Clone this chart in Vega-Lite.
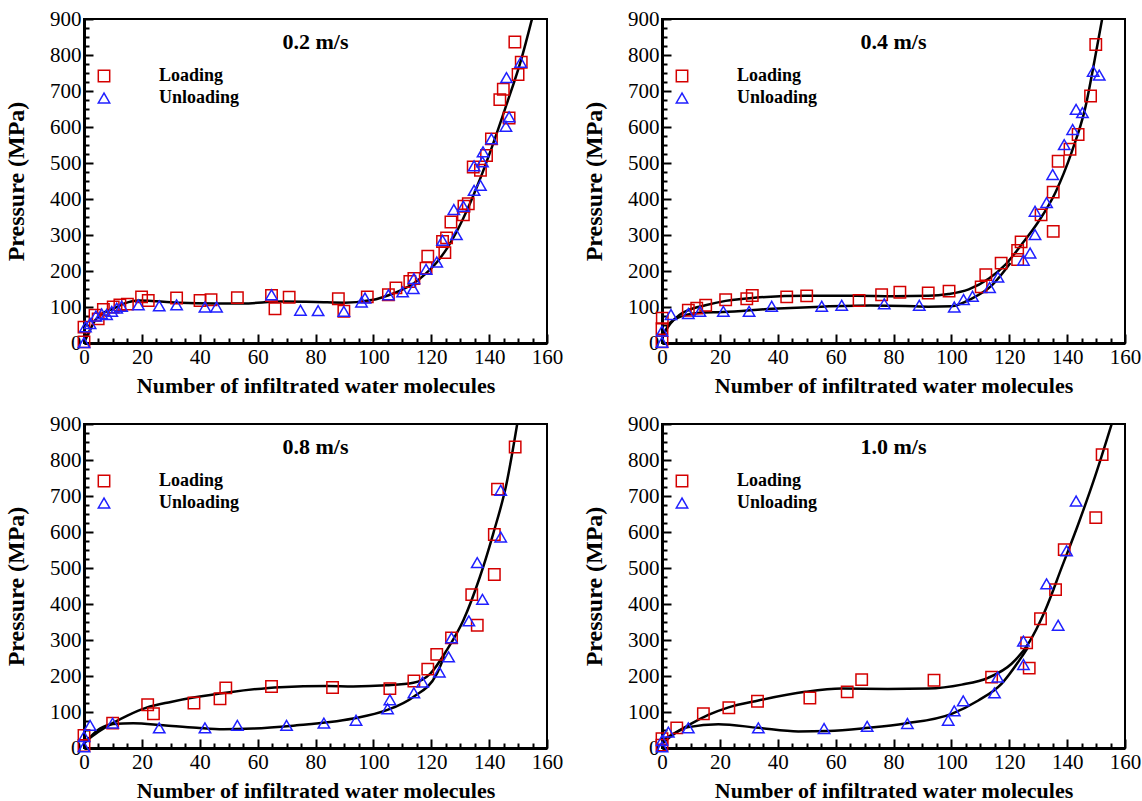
{
  "$schema": "https://vega.github.io/schema/vega-lite/v6.json",
  "padding": {"left": 3, "top": 7, "right": 5, "bottom": 5},
  "background": "white",
  "datasets": {
    "pts": [
      {"p":"0.2","s":"Loading","x":0,"y":3},{"p":"0.2","s":"Loading","x":0,"y":44},{"p":"0.2","s":"Loading","x":3.8,"y":77},{"p":"0.2","s":"Loading","x":4.9,"y":67},{"p":"0.2","s":"Loading","x":6.7,"y":93},{"p":"0.2","s":"Loading","x":10.1,"y":100},{"p":"0.2","s":"Loading","x":12.4,"y":106},{"p":"0.2","s":"Loading","x":15,"y":108},{"p":"0.2","s":"Loading","x":19.9,"y":128},{"p":"0.2","s":"Loading","x":22.2,"y":118},{"p":"0.2","s":"Loading","x":32,"y":125},{"p":"0.2","s":"Loading","x":40.1,"y":118},{"p":"0.2","s":"Loading","x":43.9,"y":120},{"p":"0.2","s":"Loading","x":53,"y":126},{"p":"0.2","s":"Loading","x":64.8,"y":132},{"p":"0.2","s":"Loading","x":66,"y":95},{"p":"0.2","s":"Loading","x":70.9,"y":127},{"p":"0.2","s":"Loading","x":87.9,"y":123},{"p":"0.2","s":"Loading","x":89.8,"y":88},{"p":"0.2","s":"Loading","x":97.9,"y":128},{"p":"0.2","s":"Loading","x":105.2,"y":134},{"p":"0.2","s":"Loading","x":107.8,"y":153},{"p":"0.2","s":"Loading","x":112.6,"y":171},{"p":"0.2","s":"Loading","x":114,"y":179},{"p":"0.2","s":"Loading","x":118.2,"y":208},{"p":"0.2","s":"Loading","x":118.8,"y":241},{"p":"0.2","s":"Loading","x":124.7,"y":251},{"p":"0.2","s":"Loading","x":123.9,"y":282},{"p":"0.2","s":"Loading","x":125.3,"y":292},{"p":"0.2","s":"Loading","x":126.8,"y":336},{"p":"0.2","s":"Loading","x":131.1,"y":356},{"p":"0.2","s":"Loading","x":131.3,"y":380},{"p":"0.2","s":"Loading","x":132.8,"y":387},{"p":"0.2","s":"Loading","x":134.5,"y":489},{"p":"0.2","s":"Loading","x":137,"y":480},{"p":"0.2","s":"Loading","x":139.1,"y":521},{"p":"0.2","s":"Loading","x":140.8,"y":567},{"p":"0.2","s":"Loading","x":143.7,"y":676},{"p":"0.2","s":"Loading","x":144.9,"y":705},{"p":"0.2","s":"Loading","x":146.9,"y":625},{"p":"0.2","s":"Loading","x":148.9,"y":836},{"p":"0.2","s":"Loading","x":150,"y":746},{"p":"0.2","s":"Loading","x":151.1,"y":780},
      {"p":"0.2","s":"Unloading","x":0,"y":1},{"p":"0.2","s":"Unloading","x":0.5,"y":45},{"p":"0.2","s":"Unloading","x":2.1,"y":54},{"p":"0.2","s":"Unloading","x":4.1,"y":75},{"p":"0.2","s":"Unloading","x":6.1,"y":81},{"p":"0.2","s":"Unloading","x":7.8,"y":79},{"p":"0.2","s":"Unloading","x":9.6,"y":88},{"p":"0.2","s":"Unloading","x":11.3,"y":97},{"p":"0.2","s":"Unloading","x":13,"y":102},{"p":"0.2","s":"Unloading","x":18.8,"y":106},{"p":"0.2","s":"Unloading","x":26,"y":103},{"p":"0.2","s":"Unloading","x":32,"y":106},{"p":"0.2","s":"Unloading","x":41.8,"y":100},{"p":"0.2","s":"Unloading","x":45.8,"y":100},{"p":"0.2","s":"Unloading","x":64.8,"y":134},{"p":"0.2","s":"Unloading","x":74.8,"y":91},{"p":"0.2","s":"Unloading","x":80.9,"y":90},{"p":"0.2","s":"Unloading","x":89.8,"y":88},{"p":"0.2","s":"Unloading","x":95.9,"y":114},{"p":"0.2","s":"Unloading","x":97.1,"y":125},{"p":"0.2","s":"Unloading","x":105.2,"y":134},{"p":"0.2","s":"Unloading","x":110.1,"y":142},{"p":"0.2","s":"Unloading","x":113.8,"y":151},{"p":"0.2","s":"Unloading","x":114,"y":179},{"p":"0.2","s":"Unloading","x":118.2,"y":205},{"p":"0.2","s":"Unloading","x":121.9,"y":225},{"p":"0.2","s":"Unloading","x":123.9,"y":285},{"p":"0.2","s":"Unloading","x":128.7,"y":301},{"p":"0.2","s":"Unloading","x":127.8,"y":371},{"p":"0.2","s":"Unloading","x":131.1,"y":380},{"p":"0.2","s":"Unloading","x":134.8,"y":424},{"p":"0.2","s":"Unloading","x":137,"y":438},{"p":"0.2","s":"Unloading","x":134.8,"y":492},{"p":"0.2","s":"Unloading","x":137.7,"y":503},{"p":"0.2","s":"Unloading","x":137.9,"y":531},{"p":"0.2","s":"Unloading","x":140.8,"y":567},{"p":"0.2","s":"Unloading","x":145.8,"y":602},{"p":"0.2","s":"Unloading","x":146.9,"y":628},{"p":"0.2","s":"Unloading","x":146,"y":737},{"p":"0.2","s":"Unloading","x":150.9,"y":780},
      {"p":"0.4","s":"Loading","x":0,"y":3},{"p":"0.4","s":"Loading","x":0,"y":40},{"p":"0.4","s":"Loading","x":0.1,"y":69},{"p":"0.4","s":"Loading","x":9.1,"y":91},{"p":"0.4","s":"Loading","x":12,"y":97},{"p":"0.4","s":"Loading","x":15.1,"y":105},{"p":"0.4","s":"Loading","x":22,"y":120},{"p":"0.4","s":"Loading","x":29.3,"y":123},{"p":"0.4","s":"Loading","x":31.2,"y":132},{"p":"0.4","s":"Loading","x":43.1,"y":128},{"p":"0.4","s":"Loading","x":50,"y":131},{"p":"0.4","s":"Loading","x":68.1,"y":118},{"p":"0.4","s":"Loading","x":75.9,"y":134},{"p":"0.4","s":"Loading","x":82.2,"y":141},{"p":"0.4","s":"Loading","x":92,"y":139},{"p":"0.4","s":"Loading","x":99.2,"y":144},{"p":"0.4","s":"Loading","x":110.3,"y":156},{"p":"0.4","s":"Loading","x":111.9,"y":190},{"p":"0.4","s":"Loading","x":117.2,"y":222},{"p":"0.4","s":"Loading","x":122.9,"y":232},{"p":"0.4","s":"Loading","x":122.9,"y":257},{"p":"0.4","s":"Loading","x":124.1,"y":281},{"p":"0.4","s":"Loading","x":131,"y":356},{"p":"0.4","s":"Loading","x":135.2,"y":310},{"p":"0.4","s":"Loading","x":135.2,"y":419},{"p":"0.4","s":"Loading","x":136.9,"y":505},{"p":"0.4","s":"Loading","x":141,"y":538},{"p":"0.4","s":"Loading","x":143.8,"y":579},{"p":"0.4","s":"Loading","x":148.1,"y":686},{"p":"0.4","s":"Loading","x":149.9,"y":829},
      {"p":"0.4","s":"Unloading","x":0,"y":2},{"p":"0.4","s":"Unloading","x":0,"y":33},{"p":"0.4","s":"Unloading","x":3.1,"y":79},{"p":"0.4","s":"Unloading","x":9.1,"y":82},{"p":"0.4","s":"Unloading","x":13.1,"y":88},{"p":"0.4","s":"Unloading","x":21.2,"y":88},{"p":"0.4","s":"Unloading","x":30.1,"y":88},{"p":"0.4","s":"Unloading","x":37.9,"y":102},{"p":"0.4","s":"Unloading","x":55.2,"y":102},{"p":"0.4","s":"Unloading","x":62.1,"y":105},{"p":"0.4","s":"Unloading","x":76.8,"y":109},{"p":"0.4","s":"Unloading","x":88.9,"y":105},{"p":"0.4","s":"Unloading","x":101,"y":100},{"p":"0.4","s":"Unloading","x":104.2,"y":121},{"p":"0.4","s":"Unloading","x":107.3,"y":130},{"p":"0.4","s":"Unloading","x":113.2,"y":154},{"p":"0.4","s":"Unloading","x":116.1,"y":183},{"p":"0.4","s":"Unloading","x":124.9,"y":230},{"p":"0.4","s":"Unloading","x":127.2,"y":250},{"p":"0.4","s":"Unloading","x":128.9,"y":301},{"p":"0.4","s":"Unloading","x":128.9,"y":366},{"p":"0.4","s":"Unloading","x":132.9,"y":390},{"p":"0.4","s":"Unloading","x":135,"y":468},{"p":"0.4","s":"Unloading","x":139,"y":551},{"p":"0.4","s":"Unloading","x":141.9,"y":593},{"p":"0.4","s":"Unloading","x":143.1,"y":649},{"p":"0.4","s":"Unloading","x":145.3,"y":640},{"p":"0.4","s":"Unloading","x":149,"y":755},{"p":"0.4","s":"Unloading","x":151.1,"y":744},
      {"p":"0.8","s":"Loading","x":0,"y":7},{"p":"0.8","s":"Loading","x":0,"y":35},{"p":"0.8","s":"Loading","x":9.9,"y":69},{"p":"0.8","s":"Loading","x":22,"y":120},{"p":"0.8","s":"Loading","x":24,"y":95},{"p":"0.8","s":"Loading","x":38,"y":125},{"p":"0.8","s":"Loading","x":47,"y":137},{"p":"0.8","s":"Loading","x":49,"y":167},{"p":"0.8","s":"Loading","x":64.8,"y":171},{"p":"0.8","s":"Loading","x":85.9,"y":168},{"p":"0.8","s":"Loading","x":105.7,"y":165},{"p":"0.8","s":"Loading","x":114,"y":186},{"p":"0.8","s":"Loading","x":118.8,"y":219},{"p":"0.8","s":"Loading","x":121.9,"y":260},{"p":"0.8","s":"Loading","x":127,"y":306},{"p":"0.8","s":"Loading","x":134,"y":426},{"p":"0.8","s":"Loading","x":135.9,"y":341},{"p":"0.8","s":"Loading","x":141.8,"y":482},{"p":"0.8","s":"Loading","x":141.8,"y":593},{"p":"0.8","s":"Loading","x":142.9,"y":719},{"p":"0.8","s":"Loading","x":149,"y":836},
      {"p":"0.8","s":"Unloading","x":0,"y":3},{"p":"0.8","s":"Unloading","x":0,"y":32},{"p":"0.8","s":"Unloading","x":2.1,"y":63},{"p":"0.8","s":"Unloading","x":9.9,"y":69},{"p":"0.8","s":"Unloading","x":26,"y":56},{"p":"0.8","s":"Unloading","x":41.8,"y":56},{"p":"0.8","s":"Unloading","x":53,"y":63},{"p":"0.8","s":"Unloading","x":70,"y":63},{"p":"0.8","s":"Unloading","x":82.9,"y":69},{"p":"0.8","s":"Unloading","x":94,"y":77},{"p":"0.8","s":"Unloading","x":104.9,"y":109},{"p":"0.8","s":"Unloading","x":105.7,"y":134},{"p":"0.8","s":"Unloading","x":114,"y":153},{"p":"0.8","s":"Unloading","x":117,"y":183},{"p":"0.8","s":"Unloading","x":122.8,"y":211},{"p":"0.8","s":"Unloading","x":126,"y":253},{"p":"0.8","s":"Unloading","x":127,"y":306},{"p":"0.8","s":"Unloading","x":133,"y":353},{"p":"0.8","s":"Unloading","x":137.7,"y":413},{"p":"0.8","s":"Unloading","x":135.9,"y":515},{"p":"0.8","s":"Unloading","x":144,"y":586},{"p":"0.8","s":"Unloading","x":144,"y":716},
      {"p":"1.0","s":"Loading","x":0,"y":8},{"p":"1.0","s":"Loading","x":0,"y":26},{"p":"1.0","s":"Loading","x":5.1,"y":56},{"p":"1.0","s":"Loading","x":14.3,"y":95},{"p":"1.0","s":"Loading","x":23.1,"y":112},{"p":"1.0","s":"Loading","x":33,"y":130},{"p":"1.0","s":"Loading","x":51.1,"y":139},{"p":"1.0","s":"Loading","x":64,"y":156},{"p":"1.0","s":"Loading","x":69,"y":190},{"p":"1.0","s":"Loading","x":94,"y":188},{"p":"1.0","s":"Loading","x":113.9,"y":197},{"p":"1.0","s":"Loading","x":126,"y":292},{"p":"1.0","s":"Loading","x":126.9,"y":222},{"p":"1.0","s":"Loading","x":130.8,"y":359},{"p":"1.0","s":"Loading","x":136,"y":440},{"p":"1.0","s":"Loading","x":139,"y":551},{"p":"1.0","s":"Loading","x":149.9,"y":640},{"p":"1.0","s":"Loading","x":152.1,"y":815},
      {"p":"1.0","s":"Unloading","x":0,"y":3},{"p":"1.0","s":"Unloading","x":0,"y":21},{"p":"1.0","s":"Unloading","x":2.2,"y":44},{"p":"1.0","s":"Unloading","x":9.1,"y":56},{"p":"1.0","s":"Unloading","x":33.3,"y":56},{"p":"1.0","s":"Unloading","x":56,"y":54},{"p":"1.0","s":"Unloading","x":70.9,"y":60},{"p":"1.0","s":"Unloading","x":84.8,"y":68},{"p":"1.0","s":"Unloading","x":98.9,"y":77},{"p":"1.0","s":"Unloading","x":101,"y":103},{"p":"1.0","s":"Unloading","x":104.1,"y":131},{"p":"1.0","s":"Unloading","x":114.9,"y":153},{"p":"1.0","s":"Unloading","x":116,"y":197},{"p":"1.0","s":"Unloading","x":124.9,"y":232},{"p":"1.0","s":"Unloading","x":124.9,"y":297},{"p":"1.0","s":"Unloading","x":132.9,"y":456},{"p":"1.0","s":"Unloading","x":136.9,"y":341},{"p":"1.0","s":"Unloading","x":139.8,"y":548},{"p":"1.0","s":"Unloading","x":143.1,"y":686}
    ],
    "curves": [
      {"p":"0.2","c":"a","x":0,"y":0},{"p":"0.2","c":"a","x":2,"y":35},{"p":"0.2","c":"a","x":4,"y":65},{"p":"0.2","c":"a","x":7,"y":85},{"p":"0.2","c":"a","x":10,"y":95},{"p":"0.2","c":"a","x":14,"y":110},{"p":"0.2","c":"a","x":19,"y":118},{"p":"0.2","c":"a","x":25,"y":116},{"p":"0.2","c":"a","x":33,"y":112},{"p":"0.2","c":"a","x":45,"y":110},{"p":"0.2","c":"a","x":55,"y":110},{"p":"0.2","c":"a","x":68,"y":115},{"p":"0.2","c":"a","x":80,"y":114},{"p":"0.2","c":"a","x":90,"y":112},{"p":"0.2","c":"a","x":100,"y":120},{"p":"0.2","c":"a","x":105,"y":132},{"p":"0.2","c":"a","x":110,"y":148},{"p":"0.2","c":"a","x":114,"y":166},{"p":"0.2","c":"a","x":118,"y":192},{"p":"0.2","c":"a","x":122,"y":225},{"p":"0.2","c":"a","x":126,"y":270},{"p":"0.2","c":"a","x":131,"y":345},{"p":"0.2","c":"a","x":136,"y":438},{"p":"0.2","c":"a","x":141,"y":545},{"p":"0.2","c":"a","x":146,"y":662},{"p":"0.2","c":"a","x":151,"y":785},{"p":"0.2","c":"a","x":154.8,"y":900},
      {"p":"0.4","c":"a","x":0,"y":17},{"p":"0.4","c":"a","x":3,"y":55},{"p":"0.4","c":"a","x":6,"y":78},{"p":"0.4","c":"a","x":9,"y":91},{"p":"0.4","c":"a","x":15,"y":105},{"p":"0.4","c":"a","x":22,"y":117},{"p":"0.4","c":"a","x":32,"y":126},{"p":"0.4","c":"a","x":50,"y":131},{"p":"0.4","c":"a","x":67,"y":131},{"p":"0.4","c":"a","x":80,"y":130},{"p":"0.4","c":"a","x":92,"y":131},{"p":"0.4","c":"a","x":99,"y":136},{"p":"0.4","c":"a","x":106,"y":149},{"p":"0.4","c":"a","x":113,"y":179},{"p":"0.4","c":"a","x":118.5,"y":216},{"p":"0.4","c":"a","x":124,"y":271},{"p":"0.4","c":"a","x":130,"y":336},{"p":"0.4","c":"a","x":136,"y":419},{"p":"0.4","c":"a","x":141.6,"y":531},{"p":"0.4","c":"a","x":146.2,"y":651},{"p":"0.4","c":"a","x":149.6,"y":790},{"p":"0.4","c":"a","x":152.1,"y":900},
      {"p":"0.4","c":"b","x":0,"y":12},{"p":"0.4","c":"b","x":3,"y":58},{"p":"0.4","c":"b","x":9,"y":79},{"p":"0.4","c":"b","x":13,"y":84},{"p":"0.4","c":"b","x":21,"y":86},{"p":"0.4","c":"b","x":38,"y":95},{"p":"0.4","c":"b","x":55,"y":101},{"p":"0.4","c":"b","x":72,"y":104},{"p":"0.4","c":"b","x":84,"y":103},{"p":"0.4","c":"b","x":92,"y":101},{"p":"0.4","c":"b","x":100,"y":102},{"p":"0.4","c":"b","x":107,"y":123},{"p":"0.4","c":"b","x":114,"y":160},{"p":"0.4","c":"b","x":120.4,"y":222},
      {"p":"0.8","c":"a","x":0,"y":15},{"p":"0.8","c":"a","x":5,"y":45},{"p":"0.8","c":"a","x":9.9,"y":69},{"p":"0.8","c":"a","x":15,"y":90},{"p":"0.8","c":"a","x":21.6,"y":112},{"p":"0.8","c":"a","x":30,"y":128},{"p":"0.8","c":"a","x":37.8,"y":140},{"p":"0.8","c":"a","x":50.4,"y":155},{"p":"0.8","c":"a","x":67.7,"y":169},{"p":"0.8","c":"a","x":83.9,"y":172},{"p":"0.8","c":"a","x":93,"y":171},{"p":"0.8","c":"a","x":104.6,"y":174},{"p":"0.8","c":"a","x":113.8,"y":181},{"p":"0.8","c":"a","x":119.6,"y":206},{"p":"0.8","c":"a","x":125.3,"y":271},{"p":"0.8","c":"a","x":131.1,"y":355},{"p":"0.8","c":"a","x":136.8,"y":475},{"p":"0.8","c":"a","x":141.4,"y":595},{"p":"0.8","c":"a","x":146,"y":734},{"p":"0.8","c":"a","x":149.7,"y":900},
      {"p":"0.8","c":"b","x":0,"y":12},{"p":"0.8","c":"b","x":5.5,"y":54},{"p":"0.8","c":"b","x":10.1,"y":67},{"p":"0.8","c":"b","x":17,"y":69},{"p":"0.8","c":"b","x":27.4,"y":63},{"p":"0.8","c":"b","x":38.9,"y":56},{"p":"0.8","c":"b","x":48.1,"y":52},{"p":"0.8","c":"b","x":58.5,"y":54},{"p":"0.8","c":"b","x":73.5,"y":63},{"p":"0.8","c":"b","x":85,"y":72},{"p":"0.8","c":"b","x":93,"y":82},{"p":"0.8","c":"b","x":104.6,"y":105},{"p":"0.8","c":"b","x":113.8,"y":142},{"p":"0.8","c":"b","x":121.9,"y":206},{"p":"0.8","c":"b","x":124.5,"y":255},
      {"p":"1.0","c":"a","x":0,"y":21},{"p":"1.0","c":"a","x":9.1,"y":63},{"p":"1.0","c":"a","x":16,"y":92},{"p":"1.0","c":"a","x":23,"y":113},{"p":"1.0","c":"a","x":33.3,"y":132},{"p":"1.0","c":"a","x":49.5,"y":156},{"p":"1.0","c":"a","x":62.1,"y":165},{"p":"1.0","c":"a","x":78,"y":164},{"p":"1.0","c":"a","x":92,"y":165},{"p":"1.0","c":"a","x":103.6,"y":176},{"p":"1.0","c":"a","x":112.7,"y":195},{"p":"1.0","c":"a","x":120.8,"y":234},{"p":"1.0","c":"a","x":126.6,"y":290},{"p":"1.0","c":"a","x":132.4,"y":382},{"p":"1.0","c":"a","x":138.2,"y":503},{"p":"1.0","c":"a","x":143.9,"y":623},{"p":"1.0","c":"a","x":149.6,"y":753},{"p":"1.0","c":"a","x":155.4,"y":900},
      {"p":"1.0","c":"b","x":0,"y":12},{"p":"1.0","c":"b","x":9.1,"y":58},{"p":"1.0","c":"b","x":19.5,"y":66},{"p":"1.0","c":"b","x":33.3,"y":56},{"p":"1.0","c":"b","x":47.1,"y":46},{"p":"1.0","c":"b","x":57.4,"y":47},{"p":"1.0","c":"b","x":71.3,"y":56},{"p":"1.0","c":"b","x":84,"y":68},{"p":"1.0","c":"b","x":100.1,"y":95},{"p":"1.0","c":"b","x":109.3,"y":132},{"p":"1.0","c":"b","x":117.4,"y":179},{"p":"1.0","c":"b","x":124.3,"y":253},{"p":"1.0","c":"b","x":126.5,"y":280}
    ]
  },
  "columns": 2,
  "bounds": "flush",
  "spacing": {"row": 81, "column": 115},
  "resolve": {"scale": {"color": "independent", "shape": "independent"}},
  "concat": [
    {
      "width": 463, "height": 324,
      "title": {"text": "0.2 m/s"},
      "layer": [
        {"data": {"name": "curves"}, "transform": [{"filter": "datum.p == '0.2'"}],
         "mark": {"type": "line", "color": "black", "strokeWidth": 2.5, "interpolate": "monotone", "clip": true},
         "encoding": {
           "x": {"field": "x", "type": "quantitative", "scale": {"domain": [0, 160], "nice": false}, "axis": {"orient": "bottom", "values": [0,20,40,60,80,100,120,140,160], "tickSize": -9, "labelPadding": 12, "title": "Number of infiltrated water molecules"}},
           "y": {"field": "y", "type": "quantitative", "scale": {"domain": [0, 900], "nice": false}, "axis": {"orient": "left", "values": [0,100,200,300,400,500,600,700,800,900], "tickSize": -9, "labelPadding": 12, "title": "Pressure (MPa)"}},
           "detail": {"field": "c"}
         }},
        {"data": {"name": "pts"}, "transform": [{"filter": "datum.p == '0.2'"}],
         "mark": {"type": "point", "filled": false, "strokeWidth": 1.5, "size": 130, "opacity": 1},
         "encoding": {
           "x": {"field": "x", "type": "quantitative", "axis": {"orient": "bottom", "values": [5,10,15,25,30,35,45,50,55,65,70,75,85,90,95,105,110,115,125,130,135,145,150,155], "tickSize": -5, "labels": false, "domain": false, "title": null}},
           "y": {"field": "y", "type": "quantitative", "axis": {"orient": "left", "values": [25,50,75,125,150,175,225,250,275,325,350,375,425,450,475,525,550,575,625,650,675,725,750,775,825,850,875], "tickSize": -5, "labels": false, "domain": false, "title": null}},
           "shape": {"field": "s", "type": "nominal", "scale": {"domain": ["Loading", "Unloading"], "range": ["square", "triangle-up"]}},
           "color": {"field": "s", "type": "nominal", "scale": {"domain": ["Loading", "Unloading"], "range": ["#d40000", "#2020ff"]}}
         }}
      ],
      "resolve": {"axis": {"x": "independent", "y": "independent"}}
    },
    {
      "width": 463, "height": 324,
      "title": {"text": "0.4 m/s"},
      "layer": [
        {"data": {"name": "curves"}, "transform": [{"filter": "datum.p == '0.4'"}],
         "mark": {"type": "line", "color": "black", "strokeWidth": 2.5, "interpolate": "monotone", "clip": true},
         "encoding": {
           "x": {"field": "x", "type": "quantitative", "scale": {"domain": [0, 160], "nice": false}, "axis": {"orient": "bottom", "values": [0,20,40,60,80,100,120,140,160], "tickSize": -9, "labelPadding": 12, "title": "Number of infiltrated water molecules"}},
           "y": {"field": "y", "type": "quantitative", "scale": {"domain": [0, 900], "nice": false}, "axis": {"orient": "left", "values": [0,100,200,300,400,500,600,700,800,900], "tickSize": -9, "labelPadding": 12, "title": "Pressure (MPa)"}},
           "detail": {"field": "c"}
         }},
        {"data": {"name": "pts"}, "transform": [{"filter": "datum.p == '0.4'"}],
         "mark": {"type": "point", "filled": false, "strokeWidth": 1.5, "size": 130, "opacity": 1},
         "encoding": {
           "x": {"field": "x", "type": "quantitative", "axis": {"orient": "bottom", "values": [5,10,15,25,30,35,45,50,55,65,70,75,85,90,95,105,110,115,125,130,135,145,150,155], "tickSize": -5, "labels": false, "domain": false, "title": null}},
           "y": {"field": "y", "type": "quantitative", "axis": {"orient": "left", "values": [25,50,75,125,150,175,225,250,275,325,350,375,425,450,475,525,550,575,625,650,675,725,750,775,825,850,875], "tickSize": -5, "labels": false, "domain": false, "title": null}},
           "shape": {"field": "s", "type": "nominal", "scale": {"domain": ["Loading", "Unloading"], "range": ["square", "triangle-up"]}},
           "color": {"field": "s", "type": "nominal", "scale": {"domain": ["Loading", "Unloading"], "range": ["#d40000", "#2020ff"]}}
         }}
      ],
      "resolve": {"axis": {"x": "independent", "y": "independent"}}
    },
    {
      "width": 463, "height": 324,
      "title": {"text": "0.8 m/s"},
      "layer": [
        {"data": {"name": "curves"}, "transform": [{"filter": "datum.p == '0.8'"}],
         "mark": {"type": "line", "color": "black", "strokeWidth": 2.5, "interpolate": "monotone", "clip": true},
         "encoding": {
           "x": {"field": "x", "type": "quantitative", "scale": {"domain": [0, 160], "nice": false}, "axis": {"orient": "bottom", "values": [0,20,40,60,80,100,120,140,160], "tickSize": -9, "labelPadding": 12, "title": "Number of infiltrated water molecules"}},
           "y": {"field": "y", "type": "quantitative", "scale": {"domain": [0, 900], "nice": false}, "axis": {"orient": "left", "values": [0,100,200,300,400,500,600,700,800,900], "tickSize": -9, "labelPadding": 12, "title": "Pressure (MPa)"}},
           "detail": {"field": "c"}
         }},
        {"data": {"name": "pts"}, "transform": [{"filter": "datum.p == '0.8'"}],
         "mark": {"type": "point", "filled": false, "strokeWidth": 1.5, "size": 130, "opacity": 1},
         "encoding": {
           "x": {"field": "x", "type": "quantitative", "axis": {"orient": "bottom", "values": [5,10,15,25,30,35,45,50,55,65,70,75,85,90,95,105,110,115,125,130,135,145,150,155], "tickSize": -5, "labels": false, "domain": false, "title": null}},
           "y": {"field": "y", "type": "quantitative", "axis": {"orient": "left", "values": [25,50,75,125,150,175,225,250,275,325,350,375,425,450,475,525,550,575,625,650,675,725,750,775,825,850,875], "tickSize": -5, "labels": false, "domain": false, "title": null}},
           "shape": {"field": "s", "type": "nominal", "scale": {"domain": ["Loading", "Unloading"], "range": ["square", "triangle-up"]}},
           "color": {"field": "s", "type": "nominal", "scale": {"domain": ["Loading", "Unloading"], "range": ["#d40000", "#2020ff"]}}
         }}
      ],
      "resolve": {"axis": {"x": "independent", "y": "independent"}}
    },
    {
      "width": 463, "height": 324,
      "title": {"text": "1.0 m/s"},
      "layer": [
        {"data": {"name": "curves"}, "transform": [{"filter": "datum.p == '1.0'"}],
         "mark": {"type": "line", "color": "black", "strokeWidth": 2.5, "interpolate": "monotone", "clip": true},
         "encoding": {
           "x": {"field": "x", "type": "quantitative", "scale": {"domain": [0, 160], "nice": false}, "axis": {"orient": "bottom", "values": [0,20,40,60,80,100,120,140,160], "tickSize": -9, "labelPadding": 12, "title": "Number of infiltrated water molecules"}},
           "y": {"field": "y", "type": "quantitative", "scale": {"domain": [0, 900], "nice": false}, "axis": {"orient": "left", "values": [0,100,200,300,400,500,600,700,800,900], "tickSize": -9, "labelPadding": 12, "title": "Pressure (MPa)"}},
           "detail": {"field": "c"}
         }},
        {"data": {"name": "pts"}, "transform": [{"filter": "datum.p == '1.0'"}],
         "mark": {"type": "point", "filled": false, "strokeWidth": 1.5, "size": 130, "opacity": 1},
         "encoding": {
           "x": {"field": "x", "type": "quantitative", "axis": {"orient": "bottom", "values": [5,10,15,25,30,35,45,50,55,65,70,75,85,90,95,105,110,115,125,130,135,145,150,155], "tickSize": -5, "labels": false, "domain": false, "title": null}},
           "y": {"field": "y", "type": "quantitative", "axis": {"orient": "left", "values": [25,50,75,125,150,175,225,250,275,325,350,375,425,450,475,525,550,575,625,650,675,725,750,775,825,850,875], "tickSize": -5, "labels": false, "domain": false, "title": null}},
           "shape": {"field": "s", "type": "nominal", "scale": {"domain": ["Loading", "Unloading"], "range": ["square", "triangle-up"]}},
           "color": {"field": "s", "type": "nominal", "scale": {"domain": ["Loading", "Unloading"], "range": ["#d40000", "#2020ff"]}}
         }}
      ],
      "resolve": {"axis": {"x": "independent", "y": "independent"}}
    }
  ],
  "config": {
    "font": "Liberation Serif",
    "view": {"stroke": "black", "strokeWidth": 2},
    "axis": {
      "grid": false, "labelFlush": false,
      "domainColor": "black", "domainWidth": 3,
      "tickColor": "black", "tickWidth": 2,
      "labelFont": "Liberation Serif", "labelFontSize": 21, "labelColor": "black",
      "titleFont": "Liberation Serif", "titleFontSize": 22, "titleFontWeight": "bold", "titleColor": "black",
      "titlePadding": 8
    },
    "axisY": {"titlePadding": 21, "titleFontSize": 24},
    "title": {"font": "Liberation Serif", "fontSize": 22, "fontWeight": "bold", "color": "black", "anchor": "middle", "frame": "group", "offset": -46},
    "legend": {
      "orient": "none", "legendX": 11, "legendY": 48, "title": null, "padding": 0,
      "labelFont": "Liberation Serif", "labelFontSize": 18, "labelFontWeight": "bold", "labelColor": "black",
      "labelOffset": 46, "symbolSize": 130, "symbolStrokeWidth": 1.5, "rowPadding": 4
    }
  }
}
